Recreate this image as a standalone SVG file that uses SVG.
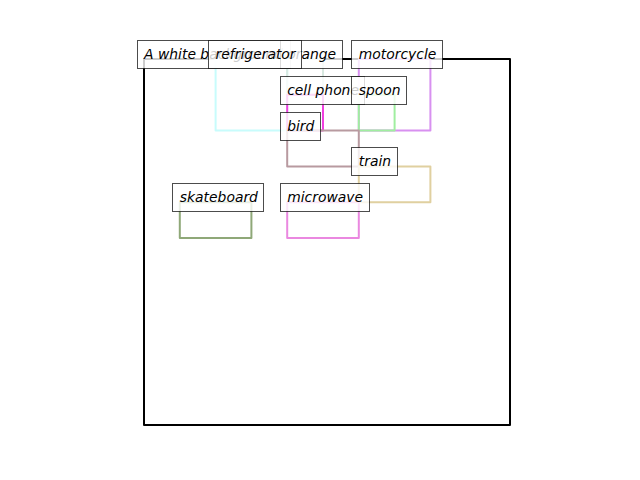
<svg xmlns="http://www.w3.org/2000/svg" width="640" height="480" viewBox="0 0 640 480">
<style>
.box{fill:none;stroke-width:2;stroke-linejoin:round}
.lbl rect{fill:#fff;fill-opacity:0.8;stroke:#000;stroke-opacity:0.7;stroke-width:1}
.lbl text{font-family:"DejaVu Sans","Liberation Sans",sans-serif;font-style:oblique;font-size:13.9px;fill:#000}
</style>
<rect width="640" height="480" fill="#fff"/>
<g id="boxes">
<rect id="caption-box" class="box" x="144" y="59" width="366" height="366" stroke="#000"/>
<rect id="refrigerator-box" class="box" x="215.6" y="59" width="71.6" height="71.6" stroke="#c8fcfc"/>
<rect id="orange-box" class="box" x="287.2" y="59" width="35.8" height="35.8" stroke="#d8e8e0"/>
<rect id="motorcycle-box" class="box" x="358.8" y="59" width="71.6" height="71.6" stroke="#d890f0"/>
<rect id="cellphone-box" class="box" x="287.2" y="94.8" width="35.8" height="35.8" stroke="#f040e0"/>
<rect id="spoon-box" class="box" x="358.8" y="94.8" width="35.8" height="35.8" stroke="#a0eea0"/>
<rect id="bird-box" class="box" x="287.2" y="130.6" width="71.6" height="35.8" stroke="#b89aa0"/>
<rect id="train-box" class="box" x="358.8" y="166.4" width="71.6" height="35.8" stroke="#e0d0a0"/>
<rect id="skateboard-box" class="box" x="179.8" y="202.2" width="71.6" height="35.8" stroke="#8fa878"/>
<rect id="microwave-box" class="box" x="287.2" y="202.2" width="71.6" height="35.8" stroke="#ea88e0"/>
</g>
<g id="caption" class="lbl"><rect x="137.5" y="40.5" width="153" height="28"/><text x="144" y="59">A white background</text></g>
<g id="orange" class="lbl"><rect x="280.5" y="40.5" width="62" height="28"/><text x="287.2" y="59">orange</text></g>
<g id="refrigerator" class="lbl"><rect x="208.5" y="40.5" width="93" height="28"/><text x="215.6" y="59">refrigerator</text></g>
<g id="motorcycle" class="lbl"><rect x="351.5" y="40.5" width="91" height="28"/><text x="358.8" y="59">motorcycle</text></g>
<g id="cellphone" class="lbl"><rect x="280.5" y="76.5" width="84" height="28"/><text x="287.2" y="94.8">cell phone</text></g>
<g id="spoon" class="lbl"><rect x="351.5" y="76.5" width="55" height="28"/><text x="358.8" y="94.8">spoon</text></g>
<g id="bird" class="lbl"><rect x="280.5" y="112.5" width="40" height="28"/><text x="287.2" y="130.6">bird</text></g>
<g id="train" class="lbl"><rect x="351.5" y="147.5" width="46" height="28"/><text x="358.8" y="166.4">train</text></g>
<g id="skateboard" class="lbl"><rect x="172.5" y="183.5" width="91" height="28"/><text x="179.8" y="202.2">skateboard</text></g>
<g id="microwave" class="lbl"><rect x="280.5" y="183.5" width="89" height="28"/><text x="287.2" y="202.2">microwave</text></g>
</svg>
